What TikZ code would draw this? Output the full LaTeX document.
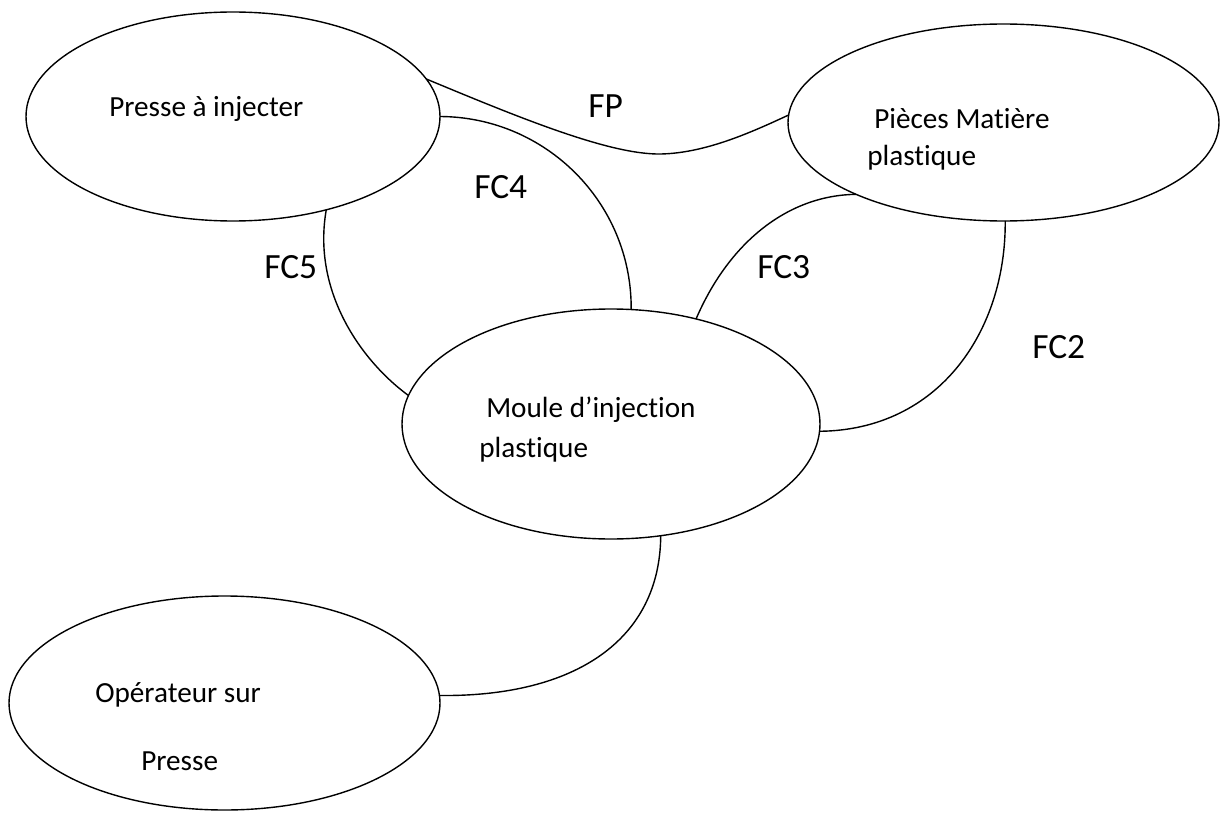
\documentclass[tikz,border=0pt]{standalone}
\usepackage{fontspec}
\setmainfont{Carlito}[Ligatures={NoCommon}]
\usetikzlibrary{shapes.geometric}
\begin{document}
\begin{tikzpicture}[x=0.75pt,y=-0.75pt,
  bubble/.style={ellipse, draw, line width=1.05pt, inner sep=0pt, outer sep=0pt},
  link/.style={line width=1.05pt},
  txt/.style={anchor=base west, inner sep=0pt, font=\fontsize{21.9}{26}\selectfont},
  fn/.style={anchor=base west, inner sep=0pt, font=\fontsize{26.6}{32}\selectfont}]
\useasboundingbox (0,0) rectangle (1220,813);

% elements of the environment
\node[bubble, minimum width=310.5pt, minimum height=156.75pt] (presse) at (233,116.5) {};
\node[bubble, minimum width=323.25pt, minimum height=147.75pt] (pieces) at (1003.5,122.5) {};
\node[bubble, minimum width=313.5pt, minimum height=172.5pt] (moule) at (611,424) {};
\node[bubble, minimum width=323.25pt, minimum height=160.5pt] (operateur) at (224.5,703) {};

% texts inside the ellipses
\node[txt] (t-presse) at (109,117) {Presse à injecter};
\node[txt] (t-pieces1) at (874,129) {Pièces Matière};
\node[txt] (t-pieces2) at (867,166) {plastique};
\node[txt] (t-moule1) at (486,417) {Moule d’injection};
\node[txt] (t-moule2) at (479,457) {plastique};
\node[txt] (t-oper1) at (95,702) {Opérateur sur};
\node[txt] (t-oper2) at (141,770) {Presse};

% functions
\draw[link] (presse.11) .. controls (520,118) and (610,155) .. (661,154)
            .. controls (705,153) and (750,133) .. (pieces.178);
\draw[link] (presse.east) .. controls (546,117) and (632,203) .. (moule.80);
\draw[link] (presse.315) .. controls (312,290) and (360,360) .. (moule.172);
\draw[link] (pieces.206) .. controls (790,195) and (730,240) .. (moule.51);
\draw[link] (pieces.271) .. controls (1006,330) and (940,430) .. (moule.358);
\draw[link] (moule.294) .. controls (660,640) and (575,697) .. (operateur.2);

% function labels
\node[fn] (l-fp) at (588,118) {FP};
\node[fn] (l-fc4) at (474,199) {FC4};
\node[fn] (l-fc5) at (264,278) {FC5};
\node[fn] (l-fc3) at (757,278) {FC3};
\node[fn] (l-fc2) at (1032,358) {FC2};
\end{tikzpicture}
\end{document}
